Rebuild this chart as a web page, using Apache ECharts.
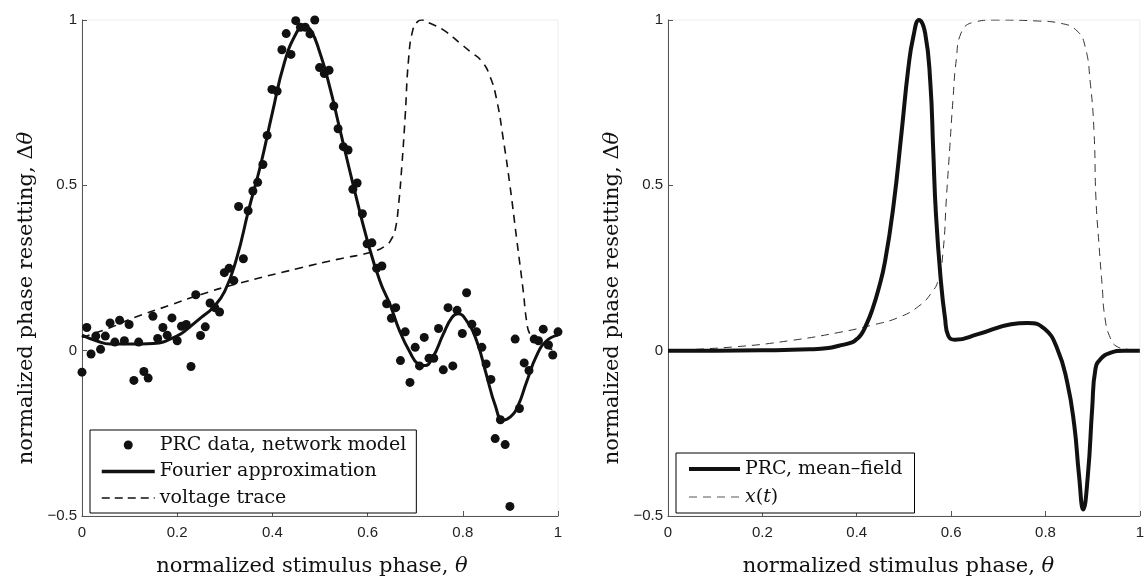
<!DOCTYPE html>
<html>
<head>
<meta charset="utf-8">
<script src="https://cdn.jsdelivr.net/npm/echarts@6/dist/echarts.min.js"></script>
<style>
html,body{margin:0;padding:0;background:#fff;}
#chart{width:1147px;height:582px;}
</style>
</head>
<body>
<div id="chart"></div>
<script>
// ---- Left panel: PRC data (network model) ----
const prcDataX = [0.0,0.01,0.019,0.029,0.039,0.049,0.059,0.069,0.079,0.089,0.099,0.109,0.119,0.130,0.139,0.149,0.159,0.170,0.179,0.189,0.2,0.209,0.219,0.229,0.239,0.249,0.259,0.269,0.279,0.289,0.299,0.309,0.319,0.329,0.339,0.349,0.359,0.369,0.380,0.389,0.399,0.410,0.42,0.429,0.439,0.449,0.459,0.469,0.479,0.489,0.499,0.509,0.519,0.529,0.538,0.549,0.559,0.569,0.578,0.589,0.599,0.609,0.619,0.630,0.640,0.650,0.659,0.669,0.679,0.689,0.700,0.709,0.719,0.729,0.739,0.749,0.759,0.769,0.779,0.788,0.799,0.808,0.819,0.829,0.840,0.849,0.859,0.868,0.879,0.889,0.899,0.910,0.919,0.929,0.939,0.950,0.959,0.969,0.980,0.989,1.0];
const prcDataY = [-0.065,0.07,-0.01,0.044,0.004,0.044,0.084,0.026,0.092,0.030,0.079,-0.09,0.026,-0.063,-0.083,0.104,0.037,0.07,0.047,0.099,0.030,0.074,0.079,-0.048,0.169,0.046,0.072,0.144,0.130,0.117,0.236,0.249,0.212,0.436,0.278,0.423,0.483,0.509,0.563,0.651,0.790,0.785,0.91,0.959,0.896,0.998,0.978,0.978,0.958,1.0,0.856,0.838,0.848,0.740,0.671,0.617,0.607,0.488,0.507,0.414,0.323,0.326,0.249,0.256,0.142,0.098,0.130,-0.030,0.057,-0.096,0.010,-0.046,0.04,-0.023,-0.023,0.067,-0.058,0.130,-0.046,0.122,0.052,0.175,0.080,0.057,0.010,-0.040,-0.087,-0.266,-0.209,-0.284,-0.471,0.035,-0.175,-0.037,-0.060,0.035,0.030,0.065,0.017,-0.013,0.057];

// Fourier approximation
const fourierX = [0,0.03,0.06,0.1,0.15,0.2,0.225,0.25,0.275,0.3,0.325,0.35,0.375,0.4,0.425,0.45,0.465,0.48,0.5,0.52,0.54,0.57,0.6,0.626,0.647,0.668,0.689,0.706,0.72,0.737,0.759,0.777,0.79,0.808,0.829,0.85,0.868,0.884,0.9,0.915,0.934,0.955,0.976,1.0];
const fourierY = [0.047,0.03,0.02,0.02,0.022,0.045,0.07,0.10,0.13,0.18,0.28,0.425,0.56,0.72,0.87,0.96,0.98,0.97,0.90,0.80,0.68,0.50,0.33,0.21,0.14,0.057,-0.005,-0.04,-0.045,-0.02,0.05,0.10,0.112,0.09,0.03,-0.075,-0.165,-0.21,-0.2,-0.17,-0.095,-0.015,0.03,0.047];

// Voltage trace
const voltageX = [0,0.06,0.11,0.19,0.25,0.32,0.458,0.536,0.612,0.64,0.651,0.658,0.665,0.672,0.679,0.686,0.695,0.705,0.714,0.731,0.759,0.794,0.815,0.84,0.857,0.871,0.885,0.899,0.913,0.927,0.934,0.941,0.955,0.975,1.0];
const voltageY = [0.04,0.07,0.10,0.14,0.17,0.20,0.25,0.276,0.30,0.32,0.34,0.365,0.44,0.56,0.71,0.88,0.97,0.995,1.0,0.99,0.97,0.93,0.905,0.875,0.83,0.76,0.64,0.50,0.34,0.18,0.09,0.05,0.03,0.01,0.0];

// ---- Right panel: mean-field PRC and x(t) ----
const meanFieldX = [0,0.1,0.2,0.3,0.34,0.362,0.39,0.40,0.41,0.42,0.432,0.446,0.46,0.478,0.495,0.509,0.52,0.532,0.545,0.556,0.562,0.568,0.579,0.587,0.594,0.608,0.657,0.727,0.762,0.798,0.825,0.846,0.861,0.871,0.880,0.89,0.899,0.906,0.917,0.937,0.966,1.0];
const meanFieldY = [0,0,0.001,0.004,0.008,0.015,0.025,0.035,0.05,0.078,0.12,0.185,0.27,0.44,0.66,0.85,0.95,1.0,0.96,0.81,0.61,0.41,0.2,0.10,0.045,0.033,0.05,0.08,0.084,0.066,0.006,-0.095,-0.225,-0.375,-0.48,-0.375,-0.175,-0.055,-0.025,-0.007,0,0];

const xtX = [0,0.145,0.257,0.362,0.432,0.488,0.531,0.558,0.573,0.583,0.59,0.597,0.604,0.611,0.621,0.65,0.693,0.783,0.832,0.867,0.884,0.895,0.903,0.907,0.914,0.92,0.926,0.937,0.952,0.979,1.0];
const xtY = [0,0.012,0.03,0.055,0.077,0.10,0.134,0.174,0.215,0.30,0.46,0.61,0.76,0.88,0.96,0.994,1.0,0.997,0.99,0.967,0.92,0.81,0.66,0.46,0.31,0.2,0.10,0.04,0.012,0.003,0];

// Axis ticks
const xTicks = [0,0.2,0.4,0.6,0.8,1];
const yTicks = [-0.5,0,0.5,1];

const zip = (a,b) => a.map((v,i)=>[v,b[i]]);
const serif = 'DejaVu Serif';
const sans = 'Liberation Sans';
const fmt = v => { const r = Math.round(v*10)/10; return (r<0?'\u2212':'') + String(Math.abs(r)); };

function xAxisCfg(gi, padR){
  return {
    type:'value', gridIndex:gi, min:xTicks[0], max:xTicks[xTicks.length-1], interval:0.2,
    axisLine:{show:true, onZero:false, lineStyle:{color:'#555', width:1}},
    axisTick:{show:true, inside:true, length:5, lineStyle:{color:'#555'}},
    splitLine:{show:false},
    axisLabel:{formatter:fmt, fontFamily:sans, fontSize:15, color:'#222', margin:9},
    name:'normalized stimulus phase, {i|θ}', nameLocation:'middle', nameGap:40,
    nameTextStyle:{fontFamily:serif, fontSize:21, color:'#111', padding:[0,padR,0,0],
      rich:{i:{fontFamily:serif, fontSize:21, fontStyle:'italic', color:'#111'}}}
  };
}
function yAxisCfg(gi){
  return {
    type:'value', gridIndex:gi, min:yTicks[0], max:yTicks[yTicks.length-1], interval:0.5,
    axisLine:{show:true, onZero:false, lineStyle:{color:'#555', width:1}},
    axisTick:{show:true, inside:true, length:5, lineStyle:{color:'#555'}},
    splitLine:{show:false},
    axisLabel:{formatter:fmt, fontFamily:sans, fontSize:15, color:'#222', margin:5},
    name:'normalized phase resetting, Δ{i|θ}', nameLocation:'middle', nameGap:45,
    nameTextStyle:{fontFamily:serif, fontSize:21, color:'#111', padding:[0,60,0,0],
      rich:{i:{fontFamily:serif, fontSize:21, fontStyle:'italic', color:'#111'}}}
  };
}

const hiddenSym = {opacity:0, color:'transparent', borderWidth:0};

const chart = echarts.init(document.getElementById('chart'), null, {renderer:'canvas'});
chart.setOption({
  animation:false,
  backgroundColor:'#fff',
  grid:[
    {left:82, top:20, width:476, height:500, show:true, borderColor:'#eeeeee', borderWidth:1, backgroundColor:'transparent'},
    {left:668, top:20, width:475, height:500, show:true, borderColor:'#eeeeee', borderWidth:1, backgroundColor:'transparent'}
  ],
  xAxis:[xAxisCfg(0,16), xAxisCfg(1,11)],
  yAxis:[yAxisCfg(0), yAxisCfg(1)],
  legend:[
    {
      left:90, top:430, orient:'vertical', padding:[5,10,5,10], itemGap:6.5,
      itemWidth:53, itemHeight:9, borderColor:'#000', borderWidth:1, backgroundColor:'#fff',
      borderRadius:0, selectedMode:false,
      textStyle:{fontFamily:serif, fontSize:19, color:'#111', lineHeight:20},
      data:[
        {name:'PRC data, network model', icon:'circle', itemStyle:{color:'#111', opacity:1}},
        {name:'Fourier approximation', itemStyle:hiddenSym, lineStyle:{width:3.5, color:'#111', type:'solid'}},
        {name:'voltage trace', itemStyle:hiddenSym, lineStyle:{width:1.5, color:'#111', type:[8,5]}}
      ]
    },
    {
      left:676, top:453, orient:'vertical', padding:[6,12,6,11], itemGap:8,
      itemWidth:51, itemHeight:9, borderColor:'#000', borderWidth:1, backgroundColor:'#fff',
      borderRadius:0, selectedMode:false,
      formatter: n => n==='x(t)' ? '{i|x}({i|t})' : n,
      textStyle:{fontFamily:serif, fontSize:19, color:'#111', lineHeight:20,
        rich:{i:{fontFamily:serif, fontSize:19, fontStyle:'italic', color:'#111', lineHeight:20}}},
      data:[
        {name:'PRC, mean–field', itemStyle:hiddenSym, lineStyle:{width:4, color:'#111', type:'solid'}},
        {name:'x(t)', itemStyle:hiddenSym, lineStyle:{width:1, color:'#555', type:[8,6]}}
      ]
    }
  ],
  series:[
    {name:'voltage trace', type:'line', xAxisIndex:0, yAxisIndex:0, data:zip(voltageX,voltageY),
      symbol:'none', smooth:0.5, itemStyle:{color:'#111'},
      lineStyle:{color:'#111', width:1.6, type:[8,6]}, z:2},
    {name:'Fourier approximation', type:'line', xAxisIndex:0, yAxisIndex:0, data:zip(fourierX,fourierY),
      symbol:'none', smooth:0.5, itemStyle:{color:'#111'},
      lineStyle:{color:'#111', width:3}, z:3},
    {name:'PRC data, network model', type:'scatter', xAxisIndex:0, yAxisIndex:0, data:zip(prcDataX,prcDataY),
      symbol:'circle', symbolSize:9, itemStyle:{color:'#111', opacity:1}, z:4},
    {name:'x(t)', type:'line', xAxisIndex:1, yAxisIndex:1, data:zip(xtX,xtY),
      symbol:'none', smooth:0.5, itemStyle:{color:'#333'},
      lineStyle:{color:'#333', width:1, type:[8,6]}, z:2},
    {name:'PRC, mean–field', type:'line', xAxisIndex:1, yAxisIndex:1, data:zip(meanFieldX,meanFieldY),
      symbol:'none', smooth:0.5, itemStyle:{color:'#111'},
      lineStyle:{color:'#111', width:4}, z:3}
  ]
});
</script>
</body>
</html>
